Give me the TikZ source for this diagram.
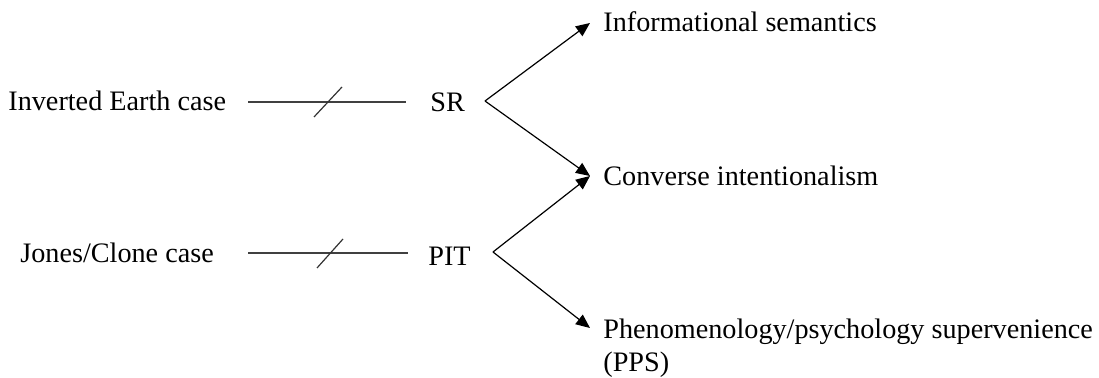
\documentclass[tikz,border=0pt]{standalone}
\usepackage{fontspec}
\setmainfont{Liberation Serif}
\usetikzlibrary{arrows.meta}
\begin{document}
\begin{tikzpicture}[x=0.5pt,y=-0.5pt,
  lbl/.style={anchor=base west, inner sep=0pt, font=\fontsize{14.1}{16.5}\selectfont},
  link/.style={line width=0.75pt, draw=black!75},
  cut/.style={line width=0.6pt, draw=black!80},
  arr/.style={line width=0.6pt, -{Triangle[length=7pt,width=6pt]}}]
\useasboundingbox (0,0) rectangle (1099,378);

% cases on the left
\node[lbl] (ie) at (8,111) {Inverted Earth case};
\node[lbl] (jc) at (20,263) {Jones/Clone case};

% the two theses
\node[lbl] (sr) at (430,112) {SR};
\node[lbl] (pit) at (428,266) {PIT};

% consequences
\node[lbl] (info) at (603,32) {Informational semantics};
\node[lbl] (ci) at (603,186) {Converse intentionalism};
\node[lbl, align=left, anchor=north west] (pps) at (603,319) {Phenomenology/psychology supervenience\\(PPS)};

% struck-through links
\coordinate (a1) at (248,102);
\coordinate (b1) at (406,102);
\coordinate (a2) at (248,253);
\coordinate (b2) at (408,253);
\draw[link] (a1) -- (b1);
\draw[link] (a2) -- (b2);
\draw[cut] (328,102) ++(-14,15) -- ++(28,-30);
\draw[cut] (330,253) ++(-13,15) -- ++(26,-29);

% branch points and arrow tips
\coordinate (v1) at (485,101);
\coordinate (v2) at (493,252);
\coordinate (t1) at (590,23);
\coordinate (t2) at (590,176);
\coordinate (t3) at (590,328);
\draw[arr] (v1) -- (t1);
\draw[arr] (v1) -- (t2);
\draw[arr] (v2) -- (t2);
\draw[arr] (v2) -- (t3);
\end{tikzpicture}
\end{document}
